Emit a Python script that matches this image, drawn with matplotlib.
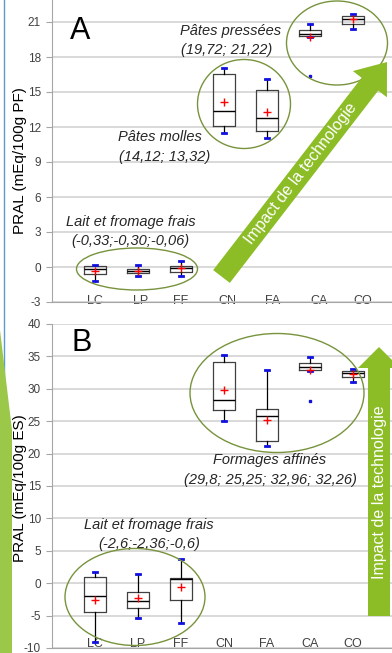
import matplotlib
matplotlib.use('Agg')
import matplotlib.pyplot as plt
from matplotlib.patches import Ellipse, Polygon
from matplotlib.transforms import Affine2D
import numpy as np

plt.rcParams['font.family'] = ['Liberation Sans', 'DejaVu Sans']

categories = ['LC', 'LP', 'FF', 'CN', 'FA', 'CA', 'CO']

# Panel A : PRAL (mEq/100g PF)
a_whislo = [-1.2, -0.75, -0.75, 11.5, 11.1, 19.7, 20.4]
a_q1 = [-0.6, -0.55, -0.45, 12.1, 11.7, 19.8, 20.8]
a_med = [-0.2, -0.35, -0.05, 13.4, 12.75, 20.0, 21.3]
a_q3 = [0.1, -0.2, 0.05, 16.55, 15.15, 20.35, 21.55]
a_whishi = [0.2, 0.15, 0.5, 17.1, 16.1, 20.85, 21.7]
a_mean = [-0.33, -0.30, -0.06, 14.12, 13.32, 19.72, 21.22]
a_fliers = [[], [], [], [], [], [16.4], []]
a_ticks = [-3, 0, 3, 6, 9, 12, 15, 18, 21]

# Panel B : PRAL (mEq/100g ES)
b_whislo = [-9.0, -5.4, -6.2, 25.1, 21.1, 32.8, 31.0]
b_q1 = [-4.4, -3.9, -2.6, 26.8, 22.0, 32.9, 31.8]
b_med = [-1.95, -2.7, 0.6, 28.3, 25.85, 33.4, 32.5]
b_q3 = [0.95, -1.35, 0.85, 34.2, 26.9, 33.95, 32.8]
b_whishi = [1.75, 1.35, 3.7, 35.2, 32.9, 34.9, 33.1]
b_mean = [-2.6, -2.36, -0.6, 29.8, 25.25, 32.96, 32.26]
b_fliers = [[], [], [], [], [], [28.15], []]
b_ticks = [-10, -5, 0, 5, 10, 15, 20, 25, 30, 35, 40]

W, H = 392, 653
fig = plt.figure(figsize=(W / 100, H / 100), dpi=100)
px = Affine2D().scale(1 / W, -1 / H).translate(0, 1) + fig.transFigure

positions = np.arange(1, len(categories) + 1)
a_label_pos = [1.0, 2.05, 2.98, 4.09, 5.14, 6.21, 7.23]

def stats(wl, q1, med, q3, wh, mean, fl):
    out = []
    for i in range(len(wl)):
        out.append(dict(whislo=wl[i], q1=q1[i], med=med[i], q3=q3[i],
                        whishi=wh[i], mean=mean[i], fliers=fl[i]))
    return out

def make_axes(rect, ylim, ticks, stat, label_pos, pad):
    ax = fig.add_axes(rect)
    ax.set_xlim(0, 340 / 43)
    ax.set_ylim(*ylim)
    ax.set_yticks(ticks)
    ax.set_yticklabels([str(t) for t in ticks])
    ax.yaxis.grid(True, color='#D0D0D0', lw=1.1, zorder=0)
    ax.set_axisbelow(True)
    for s in ['top', 'right']:
        ax.spines[s].set_visible(False)
    ax.spines['left'].set_color('#A6A6A6')
    ax.spines['bottom'].set_color('#A6A6A6')
    ax.tick_params(axis='y', direction='out', length=4, color='#A6A6A6',
                   labelsize=8.5, labelcolor='#404040', pad=4)
    ax.set_xticks(label_pos)
    ax.set_xticklabels(categories)
    ax.tick_params(axis='x', length=0, labelsize=9, labelcolor='#404040', pad=pad)
    ax.bxp(stat, positions=positions, widths=0.5, showmeans=True,
           manage_ticks=False, capwidths=0.09,
           boxprops=dict(color='#404040', lw=0.9),
           medianprops=dict(color='black', lw=1.0),
           whiskerprops=dict(color='black', lw=0.9),
           capprops=dict(color='#1010E0', lw=2),
           meanprops=dict(marker='+', markeredgecolor='red', markersize=6, mew=1),
           flierprops=dict(marker='s', markersize=2, markerfacecolor='#1010E0',
                           markeredgecolor='#1010E0'))
    return ax

# left-edge remnants (drawn first, behind everything)
fig.patches.append(Polygon([(0, 330), (12, 430), (12, 653), (0, 653)], closed=True,
                           transform=px, facecolor='#9CC84A', edgecolor='none',
                           zorder=0))
fig.lines.append(plt.Line2D([4, 4], [0, 653], transform=px, color='#5B9BD5', lw=1,
                            zorder=0))

axA = make_axes([52 / W, 1 - 302 / H, 1 - 52 / W, 302 / H], (-3, 21 + 22 / 35 * 3),
                a_ticks, stats(a_whislo, a_q1, a_med, a_q3, a_whishi, a_mean, a_fliers),
                a_label_pos, -5)
axB = make_axes([52 / W, 1 - 648 / H, 1 - 52 / W, 324 / H], (-10, 40),
                b_ticks, stats(b_whislo, b_q1, b_med, b_q3, b_whishi, b_mean, b_fliers),
                list(positions), -7)

fig.text(20, 161, 'PRAL (mEq/100g PF)', transform=px, rotation=90, ha='center',
         va='center', fontsize=11, rotation_mode='anchor')
fig.text(20, 488, 'PRAL (mEq/100g ES)', transform=px, rotation=90, ha='center',
         va='center', fontsize=11, rotation_mode='anchor')

fig.text(70, 31, 'A', transform=px, fontsize=22, va='center', ha='left')
fig.text(72, 343, 'B', transform=px, fontsize=22, va='center', ha='left')

green_line = '#77933C'
arrow_col = '#8CBD26'

def ell(cx, cy, w, h):
    fig.patches.append(Ellipse((cx, cy), w, h, transform=px, fill=False,
                               edgecolor=green_line, lw=1.0, zorder=5))

ell(137, 269, 121, 42)
ell(244, 104, 93, 89)
ell(337, 43, 101, 84)
ell(277, 393, 174, 119)
ell(135, 597, 140, 97)

def arrow(tail, tip, hw, HW, HL):
    T = np.array(tail, float); P = np.array(tip, float)
    u = (P - T) / np.linalg.norm(P - T)
    n = np.array([-u[1], u[0]])
    B = P - u * HL
    pts = [T + n * hw, B + n * hw, B + n * HW, P, B - n * HW, B - n * hw, T - n * hw]
    fig.patches.append(Polygon(pts, closed=True, transform=px, facecolor=arrow_col,
                               edgecolor='none', zorder=6))

arrow((221.5, 276.5), (387, 62), 10.5, 21.5, 28)
arrow((379, 616), (379, 347), 11, 21, 21)
fig.text(301, 174, 'Impact de la technologie', transform=px, rotation=52.5,
         rotation_mode='anchor', ha='center', va='center', color='white',
         fontsize=11.5, zorder=7)
fig.text(380, 492, 'Impact de la technologie', transform=px, rotation=90,
         rotation_mode='anchor', ha='center', va='center', color='white',
         fontsize=11.5, zorder=7)

it = dict(transform=px, ha='center', va='center', style='italic', fontsize=10.5,
          color='#262626')
fig.text(231, 31, 'Pâtes pressées', **it)
fig.text(227, 50, '(19,72; 21,22)', **it)
fig.text(160, 137, 'Pâtes molles', **it)
fig.text(165, 157, '(14,12; 13,32)', **it)
fig.text(131, 222, 'Lait et fromage frais', **it)
fig.text(130, 241, '(-0,33;-0,30;-0,06)', **it)
fig.text(270, 460, 'Formages affinés', **it)
fig.text(270, 480, '(29,8; 25,25; 32,96; 32,26)', **it)
fig.text(149, 525, 'Lait et fromage frais', **it)
fig.text(149, 544, '(-2,6;-2,36;-0,6)', **it)

fig.savefig('out.png', dpi=100)
